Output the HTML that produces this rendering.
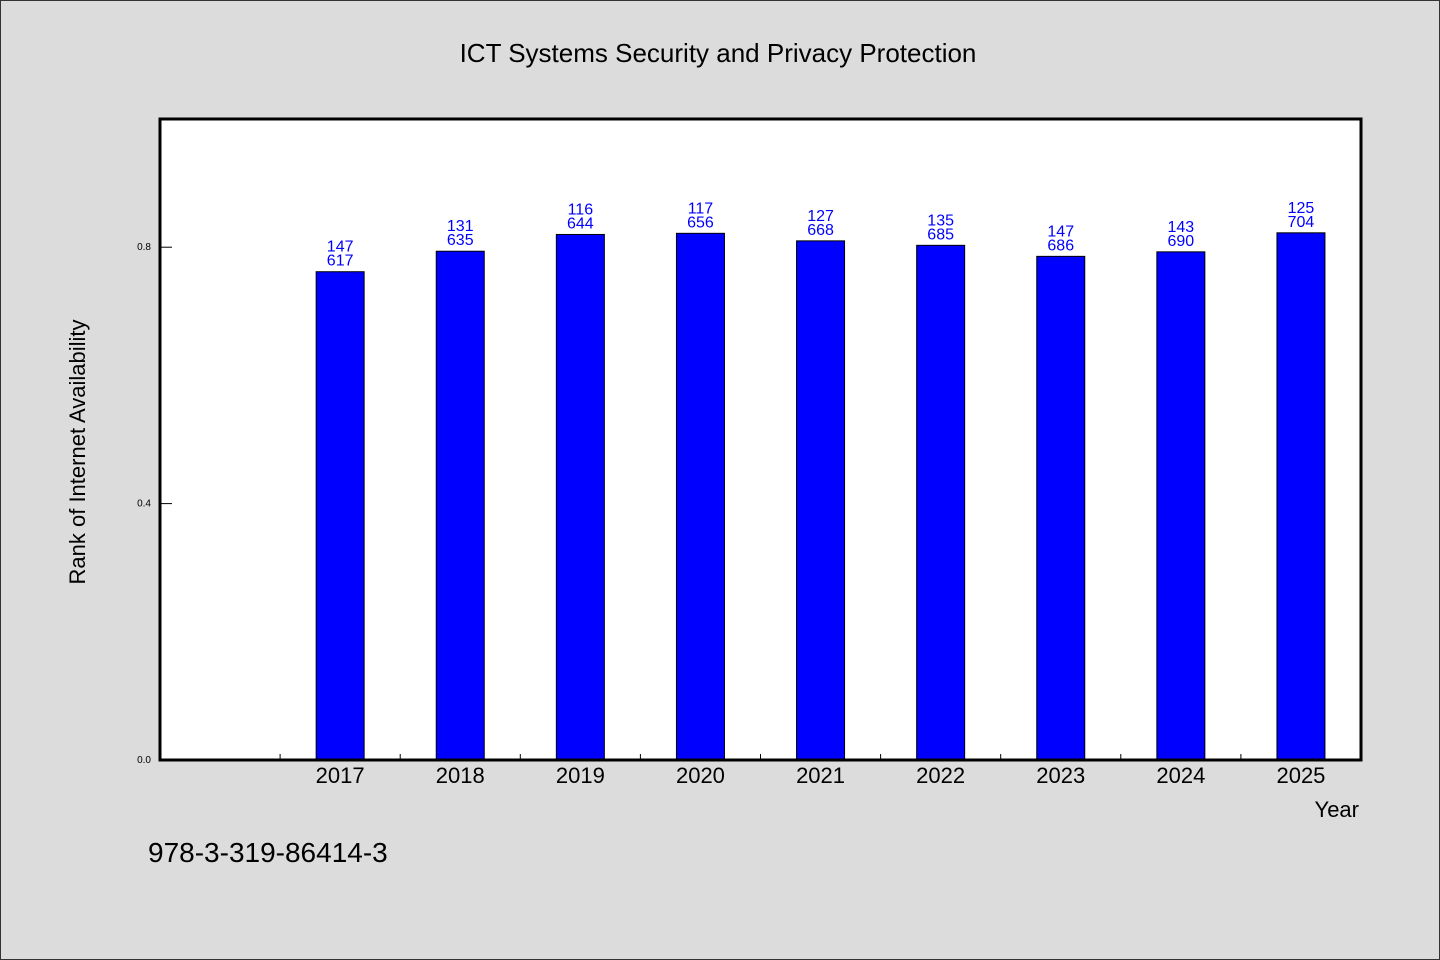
<!DOCTYPE html>
<html><head><meta charset="utf-8"><style>
html,body{margin:0;padding:0;background:#dcdcdc}
svg{display:block;font-family:"WenQuanYi Zen Hei","Liberation Sans",sans-serif}
</style></head><body>
<svg id="chart" width="1440" height="960" viewBox="0 0 1440 960">
<rect x="0.5" y="0.5" width="1439" height="959" fill="#dcdcdc" stroke="#333"/>
<text x="718" y="62" text-anchor="middle" font-size="26" fill="#000">ICT Systems Security and Privacy Protection</text>
<rect x="160" y="119" width="1201" height="641" fill="#fff"/>
<g id="marks"></g>
<rect x="160" y="119" width="1201" height="641" fill="none" stroke="#000" stroke-width="3"/>
<text transform="translate(85,452) rotate(-90)" text-anchor="middle" font-size="22" fill="#000">Rank of Internet Availability</text>
<text x="1359" y="817" text-anchor="end" font-size="22" fill="#000">Year</text>
<text x="148" y="862" font-size="28" fill="#000">978-3-319-86414-3</text>
</svg>
<script>
const categories = ["2017","2018","2019","2020","2021","2022","2023","2024","2025"];
const rankValues = [147,131,116,117,127,135,147,143,125];
const totalValues = [617,635,644,656,668,685,686,690,704];
const yTicks = [0.0,0.4,0.8];
const NS="http://www.w3.org/2000/svg";
const L=160,R=1361,T=119,B=760,yMax=1.0,slots=categories.length+1;
const band=(R-L)/slots;
const y=v=>B-(v/yMax)*(B-T);
const xc=i=>L+band*(i+1)+band/2;
const g=document.getElementById('marks');
function mk(t,a){const e=document.createElementNS(NS,t);for(const k in a)e.setAttribute(k,a[k]);g.appendChild(e);return e;}
yTicks.forEach(v=>{
  const ln=mk('line',{x1:L,x2:L+12,y1:y(v),y2:y(v),stroke:'#000','stroke-width':1});
  
  
  const t=mk('text',{x:L-9,y:y(v)+3,'text-anchor':'end','font-size':10,fill:'#000'});
  t.textContent=v.toFixed(1);
  
  
});
for(let i=1;i<slots;i++){
  const tk=mk('line',{x1:L+band*i,x2:L+band*i,y1:B,y2:B-6,stroke:'#000','stroke-width':1});
  
  
}
categories.forEach((c,i)=>{
  const v=1-rankValues[i]/totalValues[i];
  const cx=xc(i),w=48;
  const r=mk('rect',{x:cx-w/2,y:y(v),width:w,height:B-y(v),fill:'#0000ff',stroke:'#000','stroke-width':1});
  
  
  const t1=mk('text',{x:cx,y:y(v)-20,'text-anchor':'middle','font-size':16,fill:'#0000ff'});
  t1.textContent=rankValues[i];
  
  
  const t2=mk('text',{x:cx,y:y(v)-6,'text-anchor':'middle','font-size':16,fill:'#0000ff'});
  t2.textContent=totalValues[i];
  
  
  const xl=mk('text',{x:cx,y:B+23,'text-anchor':'middle','font-size':22,fill:'#000'});
  xl.textContent=c;
  
  
});
</script>
</body></html>
